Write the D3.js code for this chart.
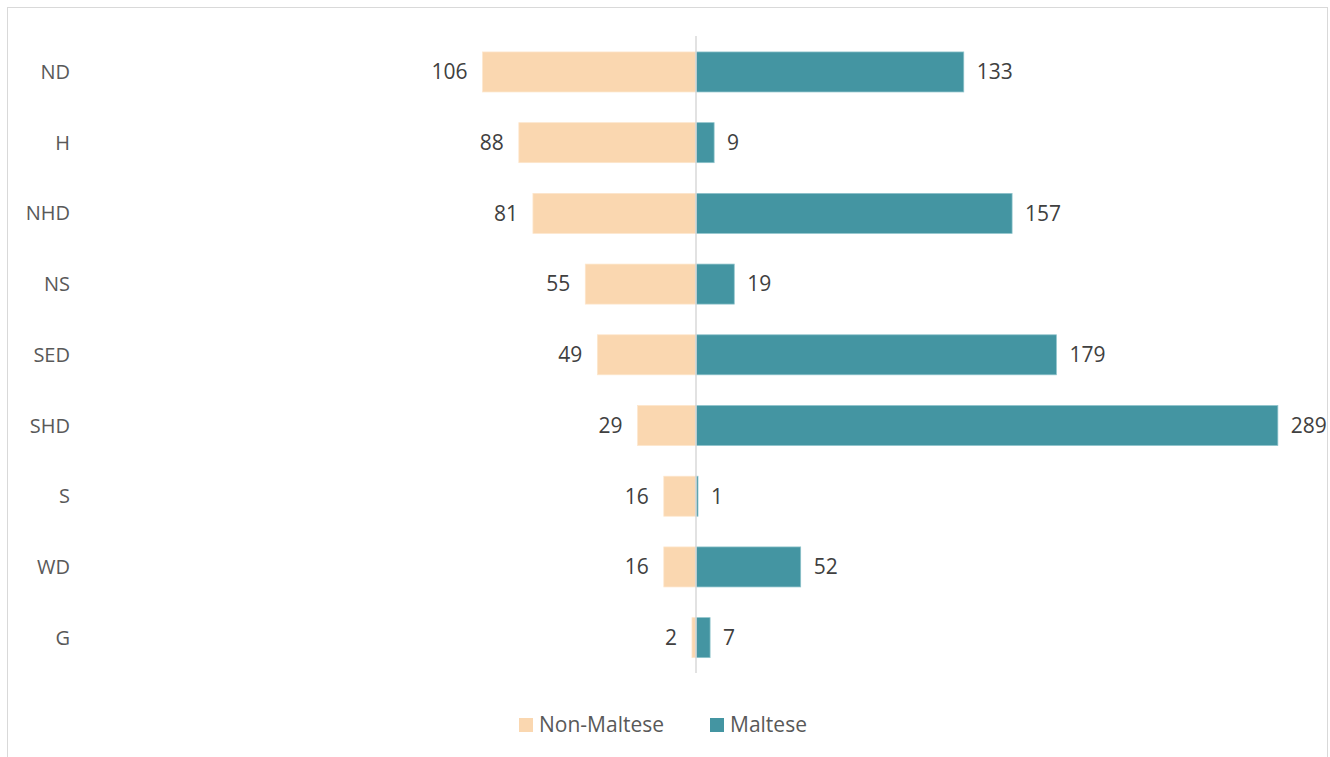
<!DOCTYPE html>
<html>
<head>
<meta charset="utf-8">
<script src="https://cdn.jsdelivr.net/npm/d3@7"></script>
<style>
  body { margin: 0; background: #fff; }
  text { font-family: "Open Sans", "Noto Sans", sans-serif; }
</style>
</head>
<body>
<div id="chart"></div>
<script>
// data
var categories = ["ND", "H", "NHD", "NS", "SED", "SHD", "S", "WD", "G"];
var nonMaltese = [106, 88, 81, 55, 49, 29, 16, 16, 2];
var maltese = [133, 9, 157, 19, 179, 289, 1, 52, 7];
var seriesNames = ["Non-Maltese", "Maltese"];

var width = 1330, height = 757;

var svg = d3.select("#chart").append("svg")
    .attr("width", width)
    .attr("height", height);

// chart frame
svg.append("rect")
    .attr("x", 7.5).attr("y", 7.5)
    .attr("width", 1320).attr("height", 760)
    .attr("fill", "#fff")
    .attr("stroke", "#d9d9d9")
    .attr("stroke-width", 1);

var x = d3.scaleLinear().domain([-300, 300]).range([92, 1300]);
var y = d3.scaleBand().domain(categories).range([36.6, 673]).paddingInner(0.434).paddingOuter(0.217);

var rows = categories.map(function(c, i) {
  return { cat: c, left: nonMaltese[i], right: maltese[i] };
});

// left bars (Non-Maltese)
svg.append("g").selectAll("rect")
  .data(rows)
  .enter()
  .append("rect")
  .attr("x", function(d) { return x(-d.left); })
  .attr("y", function(d) { return y(d.cat); })
  .attr("width", function(d) { return x(0) - x(-d.left); })
  .attr("height", y.bandwidth())
  .attr("fill", "#fad7b0")
  .attr("stroke", "#fde6cc")
  .attr("stroke-width", 0.75);

// right bars (Maltese)
svg.append("g").selectAll("rect")
  .data(rows)
  .enter()
  .append("rect")
  .attr("x", x(0))
  .attr("y", function(d) { return y(d.cat); })
  .attr("width", function(d) { return x(d.right) - x(0); })
  .attr("height", y.bandwidth())
  .attr("fill", "#4495a2")
  .attr("stroke", "#8fc3cb")
  .attr("stroke-width", 0.75);

// center axis line
svg.append("line")
  .attr("x1", x(0)).attr("x2", x(0))
  .attr("y1", 36).attr("y2", 673)
  .style("stroke", "#d9d9d9")
  .style("stroke-width", 1.5);

// value labels
svg.append("g").selectAll("text")
  .data(rows)
  .enter()
  .append("text")
  .attr("x", function(d) { return x(-d.left) - 15; })
  .attr("y", function(d) { return y(d.cat) + y.bandwidth() / 2; })
  .attr("dy", "0.35em")
  .attr("text-anchor", "end")
  .attr("font-size", "21px")
  .attr("fill", "#404040")
  .text(function(d) { return d.left; });

svg.append("g").selectAll("text")
  .data(rows)
  .enter()
  .append("text")
  .attr("x", function(d) { return x(d.right) + 13; })
  .attr("y", function(d) { return y(d.cat) + y.bandwidth() / 2; })
  .attr("dy", "0.35em")
  .attr("text-anchor", "start")
  .attr("font-size", "21px")
  .attr("fill", "#404040")
  .text(function(d) { return d.right; });

// category labels
svg.append("g").selectAll("text")
  .data(categories)
  .enter()
  .append("text")
  .attr("x", 70)
  .attr("y", function(d) { return y(d) + y.bandwidth() / 2; })
  .attr("dy", "0.35em")
  .attr("text-anchor", "end")
  .attr("font-size", "20px")
  .attr("fill", "#595959")
  .text(function(d) { return d; });

// legend
var legendX = [519, 710];
var colors = ["#fad7b0", "#4495a2"];
var legend = svg.append("g").selectAll("g")
  .data(seriesNames)
  .enter()
  .append("g")
  .attr("transform", function(d, i) { return "translate(" + legendX[i] + ",718)"; });

legend.append("rect")
  .attr("width", 14).attr("height", 14)
  .attr("fill", function(d, i) { return colors[i]; });

legend.append("text")
  .attr("x", 20).attr("y", 7)
  .attr("dy", "0.35em")
  .attr("font-size", "21px")
  .attr("fill", "#595959")
  .text(function(d) { return d; });
</script>
</body>
</html>
